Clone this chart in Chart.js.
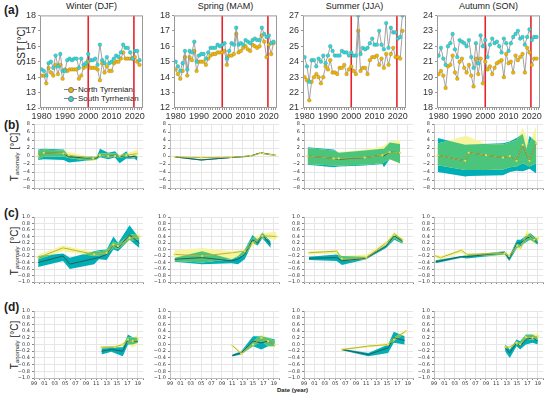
<!DOCTYPE html>
<html>
<head>
<meta charset="utf-8">
<script src="https://cdn.jsdelivr.net/npm/chart.js@4.4.1/dist/chart.umd.min.js"></script>
<style>
  body { margin: 0; width: 550px; height: 397px; position: relative; overflow: hidden; background: #fff;
         font-family: "Liberation Sans", Arial, sans-serif; color: #222; }
  canvas { position: absolute; }
  .tag { position: absolute; font-weight: bold; font-size: 12px; }
  .ttl { position: absolute; font-size: 9px; text-align: center; width: 103px; }
  .ytl { position: absolute; width: 90px; height: 12px; line-height: 12px; text-align: center;
         transform: rotate(-90deg); white-space: nowrap; }
  .ytl sub { font-size: 6px; vertical-align: -1px; }
  .leg { position: absolute; font-size: 8px; line-height: 9px; white-space: nowrap; }
  .leg i { display: inline-block; position: relative; width: 13px; height: 9px; vertical-align: top; margin-right: 1px; }
  .leg i:before { content: ""; position: absolute; left: 0; right: 0; top: 4px; border-top: 1px solid #888; }
  .leg i:after { content: ""; position: absolute; left: 4px; top: 2px; width: 4px; height: 4px; border-radius: 50%;
                 background: var(--c); border: 0.5px solid #777; }
</style>
</head>
<body>
<div class="tag" style="left:4px;top:3px">(a)</div>
<div class="tag" style="left:4px;top:118px">(b)</div>
<div class="tag" style="left:4px;top:206px">(c)</div>
<div class="tag" style="left:4px;top:300px">(d)</div>

<div class="ttl" style="left:40px;top:1px">Winter (DJF)</div>
<div class="ttl" style="left:174px;top:1px">Spring (MAM)</div>
<div class="ttl" style="left:303px;top:1px">Summer (JJA)</div>
<div class="ttl" style="left:437px;top:1px">Autumn (SON)</div>

<div class="ytl" style="left:-23px;top:40px;font-size:10px">SST [°C]</div>
<div class="ytl" style="left:-30px;top:151px;font-size:10px">T<sub>anomaly</sub> [°C]</div>
<div class="ytl" style="left:-30px;top:245px;font-size:10px">T<sub>anomaly</sub> [°C]</div>
<div class="ytl" style="left:-30px;top:339px;font-size:10px">T<sub>anomaly</sub> [°C]</div>

<div class="leg" style="left:64px;top:85px"><i style="--c:#f0b400"></i>North Tyrrenian</div>
<div class="leg" style="left:64px;top:94px"><i style="--c:#2fd6d6"></i>South Tyrrhenian</div>

<div style="position:absolute;left:277px;top:387px;font-size:6px;font-weight:bold">Date (year)</div>

<script>
// ---------- (a) seasonal SST, 1980-2022 ----------
const sstYears = [1980,1981,1982,1983,1984,1985,1986,1987,1988,1989,1990,1991,1992,1993,1994,1995,1996,1997,1998,1999,
                  2000,2001,2002,2003,2004,2005,2006,2007,2008,2009,2010,2011,2012,2013,2014,2015,2016,2017,2018,2019,
                  2020,2021,2022];

const winterNorth = [14.1,14.1,13.6,14.6,14.3,14.1,14.8,14.2,14.8,13.9,14.5,14.4,14.5,14.5,14.5,14.5,13.9,14.1,14.6,14.7,
                     15.0,14.6,14.6,14.6,14.5,13.8,14.9,14.3,14.7,14.4,14.4,14.9,15.0,15.0,15.2,15.6,15.2,15.2,15.2,15.2,
                     15.3,15.0,14.8];
const winterSouth = [14.5,14.4,14.1,14.9,15.0,14.6,15.4,14.7,15.5,14.4,14.4,15.1,15.2,15.1,15.2,15.2,14.6,15.2,14.8,14.9,
                     15.5,15.1,15.1,15.2,14.8,16.1,15.1,14.9,15.3,14.9,15.0,15.2,15.4,15.3,15.6,16.1,15.9,15.9,15.6,15.2,
                     15.7,15.7,15.1];
const springNorth = [14.5,14.2,13.9,14.4,15.3,14.1,15.3,15.1,15.7,14.4,15.0,15.0,15.0,14.8,15.2,15.4,15.5,15.5,15.6,15.6,
                     15.6,15.7,14.8,15.4,15.4,15.5,16.8,15.6,15.7,15.9,16.0,15.8,15.7,16.1,16.0,15.9,16.0,16.7,16.3,15.3,
                     16.1,15.5,16.2];
const springSouth = [15.0,14.7,14.4,14.9,15.7,14.5,15.7,15.6,16.3,15.0,15.4,15.5,15.5,15.2,15.6,15.9,15.9,15.9,16.1,16.0,
                     16.1,16.2,15.2,15.7,16.2,16.1,17.2,16.1,16.2,16.1,16.4,16.3,16.2,16.4,16.5,16.4,16.4,17.2,16.8,16.6,
                     16.7,16.2,16.3];
const summerNorth = [23.0,22.8,21.5,22.7,23.0,23.2,23.0,22.6,23.0,23.7,23.5,24.1,23.3,23.3,23.2,23.6,23.6,23.8,23.2,23.5,
                     23.7,23.4,23.2,26.0,23.4,23.6,23.6,23.2,24.1,24.3,24.3,24.4,23.8,24.2,23.6,24.5,23.8,24.5,24.9,24.3,
                     24.3,24.2,26.0];
const summerSouth = [24.3,23.7,22.7,24.1,24.1,23.7,24.2,24.0,24.4,23.9,24.4,25.0,24.7,24.4,24.4,24.4,24.7,24.6,24.6,24.4,
                     24.6,24.4,24.4,27.0,24.5,24.9,24.8,24.9,25.2,25.5,25.1,25.1,26.0,25.1,24.8,26.5,24.9,26.2,25.9,25.9,
                     25.5,25.6,27.0];
const autumnNorth = [20.2,20.4,20.1,19.3,20.7,20.8,21.4,20.3,19.9,21.0,21.2,20.6,20.3,20.8,20.1,19.4,21.2,20.2,21.2,19.6,
                     21.0,20.5,20.7,20.2,20.6,20.9,21.0,21.1,20.0,21.5,20.9,21.0,20.3,21.4,21.1,21.3,21.5,20.3,21.9,21.6,
                     20.8,21.2,21.2];
const autumnSouth = [21.4,21.9,21.2,20.8,22.0,22.2,22.8,21.8,21.3,22.4,22.3,22.2,22.0,22.4,21.3,20.6,22.2,20.9,22.7,22.0,
                     22.4,21.3,22.1,22.5,22.2,22.3,22.0,21.6,22.5,22.2,21.7,22.2,22.6,22.8,23.0,22.5,22.6,22.1,22.6,23.1,
                     22.4,22.6,22.6];

const redLines = [2000, 2019.6];
const sstRanges = [[12, 18], [12, 18], [21, 27], [18, 24]];

// ---------- (b)-(d) anomaly bands: [year, low, median, high] ----------
const bWinterN = [[1999.8,-0.8,0.0,1.4],[2000.9,-0.2,0.8,1.6],[2004.7,-0.1,0.6,1.4],[2005.7,-0.5,0.2,1.0],[2010.4,-1.4,-0.6,-0.4],
                  [2011.7,-0.2,0.2,0.6],[2013.3,-0.4,0.0,0.6],[2014.6,-0.2,0.0,0.6],[2015.5,-0.4,0.0,0.4],[2016.8,-0.2,0.2,0.6],
                  [2018.9,-0.5,0.6,1.6]];
const bWinterS = [[1999.8,-1.0,0.0,1.6],[2000.9,-0.8,0.8,1.8],[2004.7,-1.0,0.6,1.6],[2005.7,-1.6,-0.2,0.0],[2010.4,-1.0,-0.6,-0.2],
                  [2011.1,-0.9,-0.5,-0.2],[2011.7,-0.3,0.2,1.8],[2013.3,-0.8,0.0,0.8],[2014.6,-0.4,0.2,1.2],[2015.5,-1.8,-0.2,0.0],
                  [2016.8,-0.6,0.2,1.2],[2017.4,-0.7,-0.2,-0.1],[2018.3,-0.6,-0.1,0.2],[2018.9,-1.2,-0.4,0.0]];
const bSpringN = [[1999.9,-0.3,-0.2,-0.1],[2005.0,-0.6,-0.4,-0.2],[2010.7,-0.4,-0.3,-0.2],[2014.5,-0.1,0.0,0.1],[2016.4,0.6,0.7,0.8],
                  [2017.0,0.5,0.6,0.7],[2018.3,0.3,0.4,0.5],[2019.3,0.2,0.3,0.4]];
const bSpringS = [[1999.9,-0.4,-0.2,-0.1],[2005.0,-1.1,-1.0,-0.8],[2010.7,-0.5,-0.4,-0.3],[2012.5,-0.4,-0.2,-0.1],[2014.5,-0.2,0.0,0.1],
                  [2016.4,0.6,0.8,0.9],[2017.0,0.5,0.7,0.8],[2018.3,0.2,0.4,0.5],[2019.3,0.1,0.3,0.4]];
const bSummerN = [[1999.7,-2.0,0.0,2.0],[2004.7,-2.4,-0.6,1.4],[2005.7,-2.4,-0.6,1.0],[2010.7,-2.2,-0.4,1.6],[2014.1,-1.8,0.2,2.4],
                  [2015.5,-0.8,1.0,3.6],[2017.5,-2.0,0.8,4.0]];
const bSummerS = [[1999.7,-2.2,0.0,2.2],[2004.7,-2.8,-0.6,1.6],[2005.7,-2.6,-0.8,0.8],[2010.7,-2.4,-0.4,1.4],[2014.1,-2.0,0.2,1.8],
                  [2014.4,-2.8,0.0,1.8],[2015.5,-0.8,1.0,3.4],[2017.5,-1.8,0.8,3.0]];
const bAutumnN = [[1999.7,-2.3,0.2,3.1],[2005.0,-3.5,-1.2,5.0],[2005.7,-3.5,0.8,4.8],[2009.0,-3.5,0.2,3.0],[2012.3,-3.4,-0.4,2.9],
                  [2013.6,-2.8,0.0,3.4],[2014.9,-2.6,-1.2,4.0],[2016.1,-1.8,2.8,7.0],[2017.4,-2.6,-1.2,3.0],[2018.7,-1.8,3.2,7.6]];
const bAutumnS = [[1999.7,-4.0,0.2,4.5],[2005.0,-5.1,-1.2,2.8],[2005.7,-5.0,0.8,2.9],[2012.3,-4.8,-0.4,3.2],[2013.6,-4.0,0.0,3.6],
                  [2014.9,-3.7,-1.2,4.5],[2016.1,-3.8,2.8,5.5],[2016.8,-3.5,0.5,1.8],[2017.4,-3.2,-1.2,5.0],[2018.7,-4.4,3.2,3.5]];

const cWinterN = [[1999.8,-0.3,-0.25,-0.15],[2004.6,-0.05,0.05,0.12],[2010.6,-0.2,-0.15,-0.08],[2013.0,-0.15,-0.1,-0.02],
                  [2014.3,0.05,0.15,0.25],[2015.2,0.02,0.1,0.18],[2017.4,0.28,0.35,0.45],[2019.3,0.3,0.4,0.5]];
const cWinterS = [[1999.8,-0.54,-0.4,-0.2],[2004.6,-0.35,-0.2,-0.12],[2005.9,-0.6,-0.45,-0.25],[2010.6,-0.45,-0.28,-0.05],
                  [2011.5,-0.3,-0.25,-0.02],[2013.0,-0.32,-0.15,0.0],[2014.3,0.0,0.15,0.4],[2015.2,-0.05,0.05,0.2],
                  [2017.4,0.3,0.45,0.75],[2019.3,0.05,0.2,0.35]];
const cSpringN = [[1999.9,-0.35,-0.15,-0.02],[2005.2,-0.4,-0.2,0.05],[2010.9,-0.3,-0.1,-0.05],[2013.4,-0.15,-0.05,0.0],
                  [2014.9,0.1,0.2,0.35],[2016.8,0.35,0.42,0.5],[2019.5,0.3,0.4,0.55]];
const cSpringS = [[1999.9,-0.38,-0.3,-0.25],[2005.2,-0.45,-0.25,-0.05],[2010.9,-0.42,-0.35,-0.3],[2012.1,-0.45,-0.3,-0.2],
                  [2013.4,-0.3,-0.15,0.0],[2014.9,0.2,0.3,0.45],[2015.9,0.12,0.2,0.3],[2016.8,0.35,0.45,0.52],
                  [2018.4,0.05,0.15,0.25]];
const cSummerN = [[1999.95,-0.15,-0.1,-0.05],[2005.3,-0.12,-0.05,-0.02],[2006.3,-0.35,-0.28,-0.2],[2011.0,-0.3,-0.25,-0.15],
                  [2014.8,0.1,0.2,0.25],[2016.4,0.35,0.45,0.55],[2018.0,0.2,0.3,0.35]];
const cSummerS = [[1999.95,-0.32,-0.27,-0.22],[2005.3,-0.35,-0.25,-0.15],[2006.3,-0.48,-0.35,-0.2],[2011.0,-0.3,-0.27,-0.22],
                  [2014.8,0.05,0.1,0.15],[2016.4,0.3,0.42,0.5],[2018.0,0.18,0.25,0.3]];
const cAutumnN = [[1999.3,-0.25,-0.2,-0.15],[2000.3,-0.3,-0.25,-0.2],[2004.3,-0.1,-0.02,0.0],[2005.3,-0.2,-0.15,-0.12],
                  [2012.6,-0.18,-0.12,-0.08],[2013.5,-0.25,-0.2,-0.15],[2015.0,0.05,0.12,0.2],[2015.7,0.0,0.05,0.1],
                  [2016.9,0.3,0.45,0.6],[2018.3,0.2,0.3,0.35],[2019.0,0.2,0.35,0.45]];
const cAutumnS = [[1999.3,-0.42,-0.38,-0.33],[2004.3,-0.25,-0.22,-0.2],[2005.3,-0.28,-0.22,-0.18],[2012.6,-0.15,-0.1,-0.05],
                  [2013.5,-0.35,-0.28,-0.2],[2015.0,0.05,0.2,0.3],[2015.7,0.1,0.2,0.3],[2016.9,0.25,0.35,0.45],
                  [2017.6,0.3,0.4,0.5],[2019.0,0.15,0.2,0.3]];

const dWinterN = [[2012.0,-0.12,-0.08,-0.05],[2014.6,-0.1,-0.07,-0.03],[2016.1,-0.05,0.0,0.05],[2017.1,0.05,0.15,0.22],
                  [2018.0,-0.1,0.1,0.2],[2019.0,0.0,0.15,0.3]];
const dWinterS = [[2012.0,-0.3,-0.2,-0.1],[2013.9,-0.22,-0.15,-0.08],[2016.1,-0.35,-0.2,-0.08],[2017.1,0.0,0.15,0.3],
                  [2018.0,0.0,0.1,0.22],[2019.0,0.05,0.1,0.2]];
const dSpringN = [[2011.0,-0.05,-0.03,0.0],[2012.7,-0.3,-0.27,-0.22],[2015.0,-0.05,0.0,0.1],[2016.6,0.1,0.2,0.3],
                  [2017.9,-0.05,0.1,0.2],[2019.2,-0.08,0.0,0.1]];
const dSpringS = [[2011.0,-0.36,-0.33,-0.3],[2012.7,-0.3,-0.25,-0.2],[2015.0,-0.05,0.1,0.25],[2016.6,-0.15,0.05,0.25],
                  [2017.9,-0.05,0.1,0.2],[2019.2,-0.05,0.0,0.15]];
const dSummerN = [[2006.3,-0.17,-0.15,-0.12],[2011.4,-0.08,-0.05,-0.02],[2015.2,-0.03,0.0,0.05],[2016.3,0.1,0.15,0.2],
                  [2018.6,0.35,0.4,0.45]];
const dSummerS = [[2006.3,-0.17,-0.15,-0.13],[2011.4,-0.35,-0.3,-0.25],[2015.2,-0.25,-0.1,0.0],[2016.3,0.05,0.2,0.38],
                  [2018.4,0.0,0.12,0.25]];
const dAutumnN = [[2012.7,-0.12,-0.08,-0.05],[2013.6,-0.1,-0.07,-0.05],[2014.9,0.0,0.05,0.1],[2015.6,-0.02,0.0,0.05],
                  [2016.7,0.15,0.22,0.3],[2018.0,0.15,0.2,0.3],[2019.0,0.15,0.25,0.35]];
const dAutumnS = [[2012.7,-0.2,-0.1,0.0],[2013.6,-0.4,-0.25,-0.15],[2014.9,-0.05,0.05,0.15],[2015.6,-0.15,-0.05,0.1],
                  [2016.7,0.0,0.15,0.3],[2018.0,0.05,0.2,0.3],[2019.0,0.0,0.1,0.2]];

// ---------- layout ----------
const sstLefts  = [40, 174, 303, 437];
const anomLefts = [34, 170, 304, 434];
const anomTops  = [123, 216, 310];
const anomHeights = [67, 68, 68];

Chart.defaults.font.family = '"Liberation Sans", Arial, sans-serif';
Chart.defaults.color = '#333';

// frame round the plot area (row a)
const framePlugin = {
  id: 'frame',
  afterDatasetsDraw(chart, args, opts) {
    if (!opts.color) return;
    const a = chart.chartArea, c = chart.ctx;
    c.save();
    c.strokeStyle = opts.color;
    c.lineWidth = 1;
    c.strokeRect(a.left + 0.5, a.top + 0.5, a.width - 1, a.height - 1);
    c.restore();
  }
};

// green where the two bands overlap (rows b-d)
const overlapPlugin = {
  id: 'overlap',
  beforeDatasetDraw(chart, args, opts) {
    if (!opts.color || args.index !== 1) return;
    const ctx = chart.ctx, a = chart.chartArea;
    const poly = (lo, hi) => {
      const L = chart.getDatasetMeta(lo).data, H = chart.getDatasetMeta(hi).data;
      ctx.beginPath();
      H.forEach((p, k) => k ? ctx.lineTo(p.x, p.y) : ctx.moveTo(p.x, p.y));
      for (let k = L.length - 1; k >= 0; k--) ctx.lineTo(L[k].x, L[k].y);
      ctx.closePath();
    };
    ctx.save();
    ctx.beginPath();
    ctx.rect(a.left, a.top, a.width, a.height);
    ctx.clip();
    poly(2, 3);
    ctx.clip();
    poly(4, 5);
    ctx.fillStyle = opts.color;
    ctx.fill();
    ctx.restore();
  }
};

function addCanvas(x, y, w, h, pad) {
  const c = document.createElement('canvas');
  const cw = w + pad.l + pad.r, ch = h + pad.t + pad.b;
  c.width = cw; c.height = ch;
  c.style.left = (x - pad.l) + 'px';
  c.style.top = (y - pad.t) + 'px';
  c.style.width = cw + 'px';
  c.style.height = ch + 'px';
  document.body.appendChild(c);
  return c;
}

function sstPanel(col, north, south) {
  const pad = { l: 22, r: 10, t: 5, b: 15 };
  const canvas = addCanvas(sstLefts[col], 13, 103, 95, pad);
  const [ymin, ymax] = sstRanges[col];
  const series = (vals, color) => ({
    data: sstYears.map((x, k) => ({ x, y: vals[k] })),
    borderColor: '#8c8c8c', borderWidth: 0.8,
    pointRadius: 1.9, pointBackgroundColor: color,
    pointBorderColor: 'rgba(90,90,90,0.7)', pointBorderWidth: 0.3,
    order: 2
  });
  const datasets = [series(south, '#2fd6d6'), series(north, '#f0b400')];
  redLines.forEach(x => datasets.push({
    data: [{ x, y: ymin }, { x, y: ymax }],
    borderColor: '#e8232b', borderWidth: 1.6, pointRadius: 0, order: 5
  }));

  new Chart(canvas, {
    type: 'line',
    data: { datasets },
    plugins: [framePlugin],
    options: {
      responsive: false, animation: false,
      layout: { padding: { top: pad.t, right: pad.r } },
      plugins: { legend: { display: false }, tooltip: { enabled: false }, frame: { color: '#9a9a9a' } },
      scales: {
        x: {
          type: 'linear', min: 1979.3, max: 2023.5,
          afterFit: s => { s.height = pad.b; },
          border: { display: false },
          grid: { drawOnChartArea: false, tickLength: 2, color: '#999' },
          ticks: {
            stepSize: 1, maxTicksLimit: 100, autoSkip: false, maxRotation: 0, includeBounds: false,
            padding: 1, font: { size: 9 }, color: '#333',
            callback: v => (v % 10 === 0 ? String(v) : '')
          }
        },
        y: {
          min: ymin, max: ymax,
          afterFit: s => { s.width = pad.l; },
          border: { display: false },
          grid: { drawOnChartArea: false, tickLength: 2, color: '#999' },
          ticks: { stepSize: 1, padding: 2, font: { size: 9 }, color: '#333' }
        }
      }
    }
  });
}

function anomPanel(row, col, north, south) {
  const last = row === 2;
  const pad = { l: 16, r: 4, t: 4, b: last ? 10 : 3 };
  const canvas = addCanvas(anomLefts[col], anomTops[row], 109, anomHeights[row], pad);
  const big = row === 0;
  const pts = (arr, k) => arr.map(p => ({ x: p[0], y: p[k] }));
  const edge = { borderColor: 'rgba(0,0,0,0)', borderWidth: 0, pointRadius: 0, order: 2 };

  const datasets = [
    { data: pts(north, 2), borderColor: '#b9b33c', borderWidth: 1, pointRadius: 1.1,
      pointBackgroundColor: '#e6e24a', pointBorderWidth: 0, order: 1 },
    { data: pts(south, 2), borderColor: '#2c5d58', borderWidth: 1, pointRadius: 0, order: 1 },
    { ...edge, data: pts(north, 1), fill: false },
    { ...edge, data: pts(north, 3), fill: '-1', backgroundColor: '#f6f49e' },
    { ...edge, data: pts(south, 1), fill: false },
    { ...edge, data: pts(south, 3), fill: '-1', backgroundColor: '#00aeb6' }
  ];

  new Chart(canvas, {
    type: 'line',
    data: { datasets },
    plugins: [overlapPlugin],
    options: {
      responsive: false, animation: false,
      layout: { padding: { top: pad.t, right: pad.r } },
      plugins: { legend: { display: false }, tooltip: { enabled: false }, overlap: { color: '#4cc57c' } },
      scales: {
        x: {
          type: 'linear', min: 1999, max: 2020,
          afterFit: s => { s.height = pad.b; },
          border: { color: '#bbb' },
          grid: {
            color: c => (c.tick && Math.round(c.tick.value) % 2 === 1 ? '#e6e6e6' : 'rgba(0,0,0,0)'),
            tickColor: '#888', tickLength: 2
          },
          ticks: {
            stepSize: 1, maxTicksLimit: 100, autoSkip: false, maxRotation: 0, padding: 1,
            font: { family: '"DejaVu Sans", sans-serif', size: 5 }, color: '#333',
            callback: v => (last && v % 2 === 1 ? String(v % 100).padStart(2, '0') : '')
          }
        },
        y: {
          min: big ? -8 : -1, max: big ? 8 : 1,
          afterFit: s => { s.width = pad.l; },
          border: { color: '#bbb' },
          grid: { color: '#e6e6e6', tickColor: '#888', tickLength: 2 },
          ticks: {
            stepSize: big ? 2 : 0.2, padding: 2, autoSkip: false,
            font: { family: '"DejaVu Sans", sans-serif', size: 5 }, color: '#333',
            callback: v => (big ? String(Math.round(v)) : (+v).toFixed(1)).replace('-', '\u2212')
          }
        }
      }
    }
  });
}

sstPanel(0, winterNorth, winterSouth);
sstPanel(1, springNorth, springSouth);
sstPanel(2, summerNorth, summerSouth);
sstPanel(3, autumnNorth, autumnSouth);

anomPanel(0, 0, bWinterN, bWinterS);
anomPanel(0, 1, bSpringN, bSpringS);
anomPanel(0, 2, bSummerN, bSummerS);
anomPanel(0, 3, bAutumnN, bAutumnS);

anomPanel(1, 0, cWinterN, cWinterS);
anomPanel(1, 1, cSpringN, cSpringS);
anomPanel(1, 2, cSummerN, cSummerS);
anomPanel(1, 3, cAutumnN, cAutumnS);

anomPanel(2, 0, dWinterN, dWinterS);
anomPanel(2, 1, dSpringN, dSpringS);
anomPanel(2, 2, dSummerN, dSummerS);
anomPanel(2, 3, dAutumnN, dAutumnS);
</script>
</body>
</html>
